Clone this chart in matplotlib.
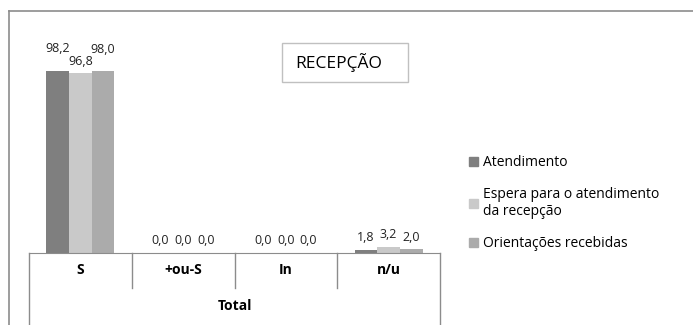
import matplotlib.pyplot as plt
from matplotlib.patches import Patch, Rectangle

plt.rcParams['font.family'] = ['Open Sans', 'DejaVu Sans']

# dados
categorias = ['S', '+ou-S', 'In', 'n/u']
atendimento = [98.2, 0.0, 0.0, 1.8]
espera = [96.8, 0.0, 0.0, 3.2]
orientacoes = [98.0, 0.0, 0.0, 2.0]
series = ['Atendimento', 'Espera para o atendimento\nda recepção', 'Orientações recebidas']
cores = ['#7f7f7f', '#c9c9c9', '#ababab']

W, H = 693, 325
fig = plt.figure(figsize=(W / 100, H / 100), dpi=100)

# moldura externa (so topo e esquerda aparecem)
fig.add_artist(plt.Line2D([9 / W, 1], [1 - 11 / H, 1 - 11 / H], color='#8c8c8c', lw=1.2))
fig.add_artist(plt.Line2D([9 / W, 9 / W], [0, 1 - 11 / H], color='#8c8c8c', lw=1.2))

ax = fig.add_axes([29 / W, 1 - 253 / H, (440 - 29) / W, (253 - 30) / H])
x = range(len(categorias))
largura = 0.22
valores = [atendimento, espera, orientacoes]
ajuste = [[7, 0, 0, 0], [0, 0, 0, 0], [7, 0, 0, 0]]  # deslocamento extra dos rotulos (pt)

for i, (vals, cor) in enumerate(zip(valores, cores)):
    pos = [xi + (i - 1) * largura for xi in x]
    barras = ax.bar(pos, vals, width=largura, color=cor, zorder=2)
    for b, v, extra in zip(barras, vals, ajuste[i]):
        ax.annotate(f'{v:.1f}'.replace('.', ','), (b.get_x() + b.get_width() / 2, v),
                    xytext=(0, 4 + extra), textcoords='offset points',
                    ha='center', va='bottom', fontsize=9, color='#222222')

ax.set_xlim(-0.5, len(categorias) - 0.5)
ax.set_ylim(0, 120)
ax.set_xticks([])
ax.set_yticks([])
for s in ['top', 'right', 'left']:
    ax.spines[s].set_visible(False)
ax.spines['bottom'].set_color('#8c8c8c')

# tabela de categorias abaixo do eixo
linha1 = (288 - 253) / (253 - 30)
fundo = 253 / (253 - 30)
for k in range(len(categorias) + 1):
    y0 = -fundo if k in (0, len(categorias)) else -linha1
    ax.plot([k / len(categorias)] * 2, [0, y0], transform=ax.transAxes,
            color='#8c8c8c', lw=1, clip_on=False)
for k, c in enumerate(categorias):
    ax.text((k + 0.5) / len(categorias), -linha1 / 2, c, transform=ax.transAxes,
            ha='center', va='center', fontsize=10, fontweight='bold')
ax.text(0.5, -(linha1 + (325 - 288) / (253 - 30) / 2), 'Total', transform=ax.transAxes,
        ha='center', va='center', fontsize=10, fontweight='bold')

# caixa do titulo
fig.add_artist(Rectangle((282 / W, 1 - 82 / H), 126 / W, 39 / H, transform=fig.transFigure,
                         fc='white', ec='#c0c0c0', lw=1))
fig.text(339 / W, 1 - 63 / H, 'RECEPÇÃO', ha='center', va='center', fontsize=12.5)

# legenda
handles = [Patch(color=c) for c in cores]
fig.legend(handles, series, loc='upper left', bbox_to_anchor=(457 / W, 1 - 143 / H),
           frameon=False, fontsize=10, handlelength=0.6, handleheight=0.6,
           handletextpad=0.4, labelspacing=1.2)

fig.savefig('out.png', dpi=100)
